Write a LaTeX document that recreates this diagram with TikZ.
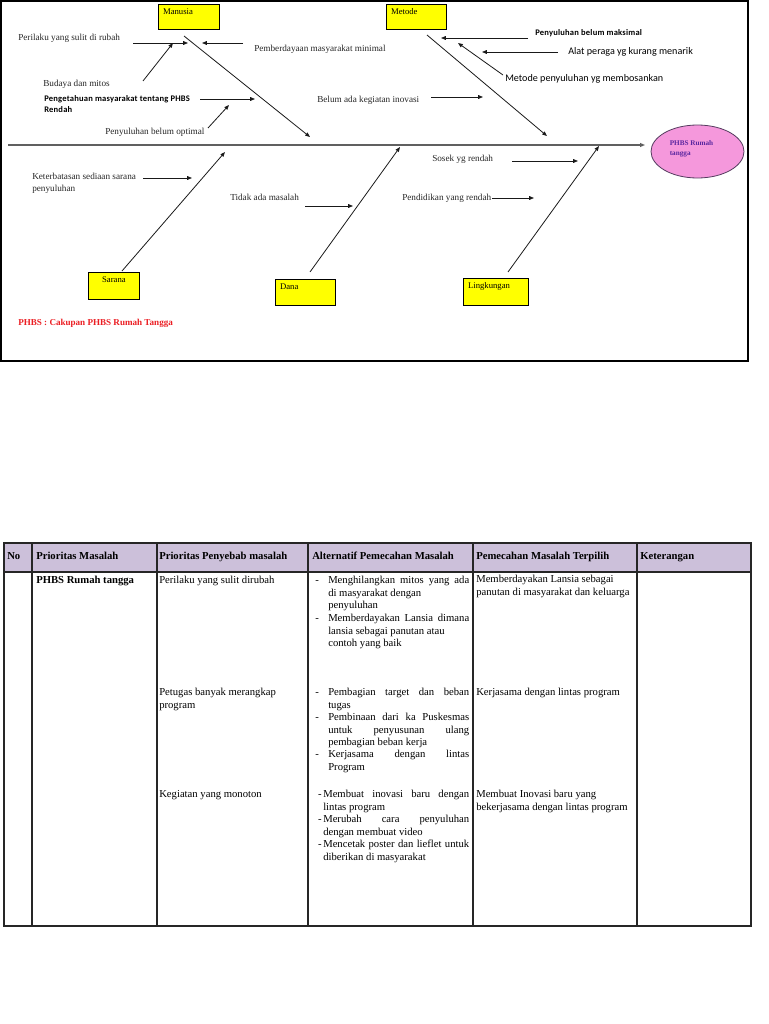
\documentclass[tikz,border=0pt]{standalone}
\usepackage{fontspec}
\setmainfont{Liberation Serif}
\newfontfamily\calib{Carlito}
\newfontfamily\calibsp[LetterSpace=2.5]{Carlito}
\usetikzlibrary{positioning,arrows.meta,shapes.geometric}
\definecolor{boxyellow}{RGB}{255,255,0}
\definecolor{effpink}{RGB}{245,152,220}
\definecolor{effline}{RGB}{85,60,95}
\definecolor{efftext}{RGB}{90,40,160}
\definecolor{notered}{RGB}{235,30,35}
\definecolor{headlav}{RGB}{204,192,218}
\newcommand\jst[2]{\makebox[#1][s]{#2}}
\newcommand\dsh[1]{\llap{-\hspace{#1}}}
\tikzset{
  catbox/.style n args={3}{draw, fill=boxyellow, line width=0.6pt, anchor=north west,
                 inner xsep=3.5pt, inner ysep=0pt, font=\fontsize{6.5}{8}\selectfont,
                 text height=7.6pt, text width=#1, text depth=#2, align=#3},
  cause/.style={anchor=north west, inner sep=0pt, text=black!85, align=left,
                font=\fontsize{6.9}{9}\selectfont},
  causesans/.style={cause, text=black, font=\calib\fontsize{7.6}{9}\selectfont},
  causebold/.style={cause, text=black, font=\calibsp\bfseries\fontsize{6.4}{8.3}\selectfont},
  bone/.style={-{Triangle[length=3.6pt,width=2.8pt]}, line width=0.6pt, black!90},
  spine/.style={bone, line width=1.1pt, gray!75!black},
  cell/.style={anchor=north west, inner sep=0pt, align=left, font=\fontsize{8}{9.4}\selectfont},
  headcell/.style={cell, font=\bfseries\fontsize{8}{9.4}\selectfont},
  grid/.style={line width=0.9pt, black!85}
}
\begin{document}
\begin{tikzpicture}[x=0.75pt,y=-0.75pt]
\useasboundingbox (0,0) rectangle (768,1024);

% fishbone frame
\draw[line width=0.8pt] (1,1) rectangle (748,361);

% categories and effect
\node[catbox={38.75pt}{11.15pt}{left}] (man) at (158,4) {Manusia};
\node[catbox={38pt}{11.15pt}{left}] (met) at (386,4) {Metode};
\node[catbox={31.25pt}{12.65pt}{center}] (sar) at (88,272) {Sarana};
\node[catbox={38pt}{11.9pt}{left}] (dana) at (275,279) {Dana};
\node[catbox={41.75pt}{12.65pt}{left}] (ling) at (463,278) {Lingkungan};
\node[ellipse, draw=effline, fill=effpink, line width=0.6pt, minimum width=69.75pt,
      minimum height=39.75pt, inner sep=0pt, text=efftext, align=left,
      font=\bfseries\fontsize{5.4}{7.4}\selectfont] (eff) at (697.5,151.5)
      {PHBS Rumah\hspace*{9pt}\\tangga\rule[-5pt]{0pt}{0pt}};

% spine and bones
\coordinate (spst) at (8,145);   \coordinate (spend) at (645,145);
\coordinate (manst) at (184,36); \coordinate (manend) at (310,137);
\coordinate (metst) at (427,35); \coordinate (metend) at (547,136);
\coordinate (sarst) at (122,271); \coordinate (sarend) at (225,152);
\coordinate (danast) at (310,272); \coordinate (danaend) at (400,147);
\coordinate (lingst) at (508,272); \coordinate (lingend) at (599,146);
\draw[spine] (spst) -- (spend);
\draw[bone] (manst) -- (manend);
\draw[bone] (metst) -- (metend);
\draw[bone] (sarst) -- (sarend);
\draw[bone] (danast) -- (danaend);
\draw[bone] (lingst) -- (lingend);

% causes
\node[cause] (perilaku) at (18,34) {Perilaku yang sulit di rubah};
\node[cause] (pemb) at (254,45) {Pemberdayaan masyarakat minimal};
\node[cause] (budaya) at (43,80) {Budaya dan mitos};
\node[causebold] (penget) at (44,95) {Pengetahuan masyarakat tentang PHBS\\Rendah};
\node[cause] (penyopt) at (105,128) {Penyuluhan belum optimal};
\node[cause] (keterb) at (32,173) {Keterbatasan sediaan sarana\\penyuluhan};
\node[cause] (tidak) at (230,194) {Tidak ada masalah};
\node[cause] (belum) at (317,96) {Belum ada kegiatan inovasi};
\node[cause] (sosek) at (432,155) {Sosek yg rendah};
\node[cause] (pendid) at (402,194) {Pendidikan yang rendah};
\node[causebold] (penymaks) at (535,29) {Penyuluhan belum maksimal};
\node[causesans] (alat) at (568,47) {Alat peraga yg kurang menarik};
\node[causesans] (metpen) at (505,74) {Metode penyuluhan yg membosankan};
\node[cause, text=notered, font=\bfseries\fontsize{6.8}{9}\selectfont] (note) at (18,319)
     {PHBS : Cakupan PHBS Rumah Tangga};

% cause arrows
\foreach \nm/\ax/\ay/\bx/\by in {perilaku/133/43/188/43, pemb/243/43/202/43,
    budaya/143/81/173/43, penget/200/99/255/99, penyopt/208/128/229/105,
    belum/431/97/483/97, penymaks/528/38/441/38, alat/558/52/482/52,
    metpen/503/75/458/43, sosek/512/161/578/161, pendid/492/198/534/198,
    keterb/143/178/192/178, tidak/305/206/353/206}
  {\coordinate (\nm-s) at (\ax,\ay); \coordinate (\nm-e) at (\bx,\by);
   \draw[bone] (\nm-s) -- (\nm-e);}

% table
\fill[headlav] (4,543) rectangle (751,572);
\draw[grid] (4,543) rectangle (751,926);
\draw[grid] (4,572) -- (751,572);
\foreach \cx in {32,157,308,473,637}
  \draw[grid] (\cx,543) -- (\cx,926);

\node[headcell] (hno) at (7,552) {No};
\node[headcell] (hmas) at (36,552) {Prioritas Masalah};
\node[headcell] (hpen) at (159,552) {Prioritas Penyebab masalah};
\node[headcell] (halt) at (312,552) {Alternatif Pemecahan Masalah};
\node[headcell] (hter) at (476,552) {Pemecahan Masalah Terpilih};
\node[headcell] (hket) at (640,552) {Keterangan};

\node[headcell] (masalah) at (36,576) {PHBS Rumah tangga};

\node[cell] (sebab1) at (159,576) {Perilaku yang sulit dirubah};
\node[cell] (alt1) at (328,576) {\dsh{7.1pt}\jst{105.75pt}{Menghilangkan mitos yang ada}\\di masyarakat dengan\\penyuluhan};
\node[cell] (alt2) at (328,614) {\dsh{7.1pt}\jst{105.75pt}{Memberdayakan Lansia dimana}\\lansia sebagai panutan atau\\contoh yang baik};
\node[cell] (pilih1) at (476,575) {Memberdayakan Lansia sebagai\\panutan di masyarakat dan keluarga};

\node[cell] (sebab2) at (159,688) {Petugas banyak merangkap\\program};
\node[cell] (alt3) at (328,688) {\dsh{7.1pt}\jst{105.75pt}{Pembagian target dan beban}\\tugas};
\node[cell] (alt4) at (328,713) {\dsh{7.1pt}\jst{105.75pt}{Pembinaan dari ka Puskesmas}\\\jst{105.75pt}{untuk penyusunan ulang}\\pembagian beban kerja};
\node[cell] (alt5) at (328,750) {\dsh{7.1pt}\jst{105.75pt}{Kerjasama dengan lintas}\\Program};
\node[cell] (pilih2) at (476,688) {Kerjasama dengan lintas program};

\node[cell] (sebab3) at (159,790) {Kegiatan yang monoton};
\node[cell] (alt6) at (323,790) {\dsh{1.2pt}\jst{109.5pt}{Membuat inovasi baru dengan}\\lintas program};
\node[cell] (alt7) at (323,815) {\dsh{1.2pt}\jst{109.5pt}{Merubah cara penyuluhan}\\dengan membuat video};
\node[cell] (alt8) at (323,840) {\dsh{1.2pt}\jst{109.5pt}{Mencetak poster dan lieflet untuk}\\diberikan di masyarakat};
\node[cell] (pilih3) at (476,790) {Membuat Inovasi baru yang\\bekerjasama dengan lintas program};
\end{tikzpicture}
\end{document}
